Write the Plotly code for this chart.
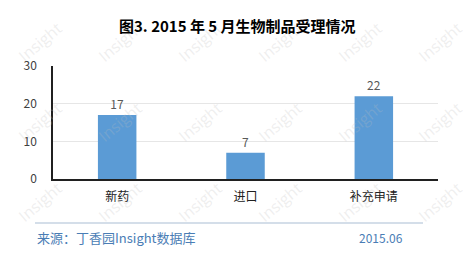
import plotly.graph_objects as go

categories = ["新药", "进口", "补充申请"]
values = [17, 7, 22]
y_ticks = [0, 10, 20, 30]

FONT = "Noto Sans CJK SC"

fig = go.Figure()
fig.add_trace(go.Bar(
    x=categories, y=values, width=0.3,
    marker=dict(color="#5b9bd5", line=dict(width=0)),
    text=[str(v) for v in values], textposition="outside",
    textfont=dict(family=FONT, size=12, color="#595959"),
    cliponaxis=False,
))

W, H = 471, 258
left, right, top, bottom = 53, 438, 66, 179
fig.update_layout(
    width=W, height=H,
    margin=dict(l=left, r=W - right, t=top, b=H - bottom),
    paper_bgcolor="white", plot_bgcolor="white",
    showlegend=False,
    font=dict(family=FONT, size=12, color="#404040"),
    xaxis=dict(showline=True, linecolor="#202020", linewidth=1.5, ticks="",
               tickfont=dict(size=12, color="#202020"), showgrid=False,
               ticklabelstandoff=6),
    yaxis=dict(range=[0, 30], tickvals=y_ticks, showline=True, linecolor="#202020",
               linewidth=1.5, gridcolor="#e6e6e6", gridwidth=1, zeroline=False,
               tickfont=dict(size=12, color="#404040"), ticks="",
               ticklabelstandoff=12),
)


def px2paper(px, py):
    return (px - left) / (right - left), (bottom - py) / (bottom - top)


# watermarks (kept inside the page)
for row, yy in enumerate([42, 122, 202]):
    for col in range(6):
        xx = 40 + col * 80
        ax, ay = px2paper(xx, yy)
        fig.add_annotation(x=ax, y=ay, xref="paper", yref="paper", text="Insight",
                           showarrow=False, textangle=-40,
                           font=dict(family="Open Sans", size=16, color="rgba(190,190,190,0.25)"),
                           xanchor="center", yanchor="middle")

tx, ty = px2paper(237, 25)
fig.add_annotation(x=tx, y=ty, xref="paper", yref="paper", showarrow=False,
                   text="<b>图3. 2015 年 5 月生物制品受理情况</b>",
                   font=dict(family=FONT, size=15, color="#000000"),
                   xanchor="center", yanchor="middle")

x0, y0 = px2paper(35, 223)
x1, _ = px2paper(423, 223)
fig.add_shape(type="line", xref="paper", yref="paper", x0=x0, x1=x1, y0=y0, y1=y0,
              line=dict(color="#a9bdd3", width=1))

sx, sy = px2paper(35, 237)
fig.add_annotation(x=sx, y=sy, xref="paper", yref="paper", showarrow=False,
                   text="来源：丁香园Insight数据库",
                   font=dict(family=FONT, size=13, color="#4a7db5"),
                   xanchor="left", yanchor="middle")
dx, dy = px2paper(405, 237)
fig.add_annotation(x=dx, y=dy, xref="paper", yref="paper", showarrow=False,
                   text="2015.06",
                   font=dict(family=FONT, size=12, color="#4a7db5"),
                   xanchor="right", yanchor="middle")

fig.write_html("out.html")
